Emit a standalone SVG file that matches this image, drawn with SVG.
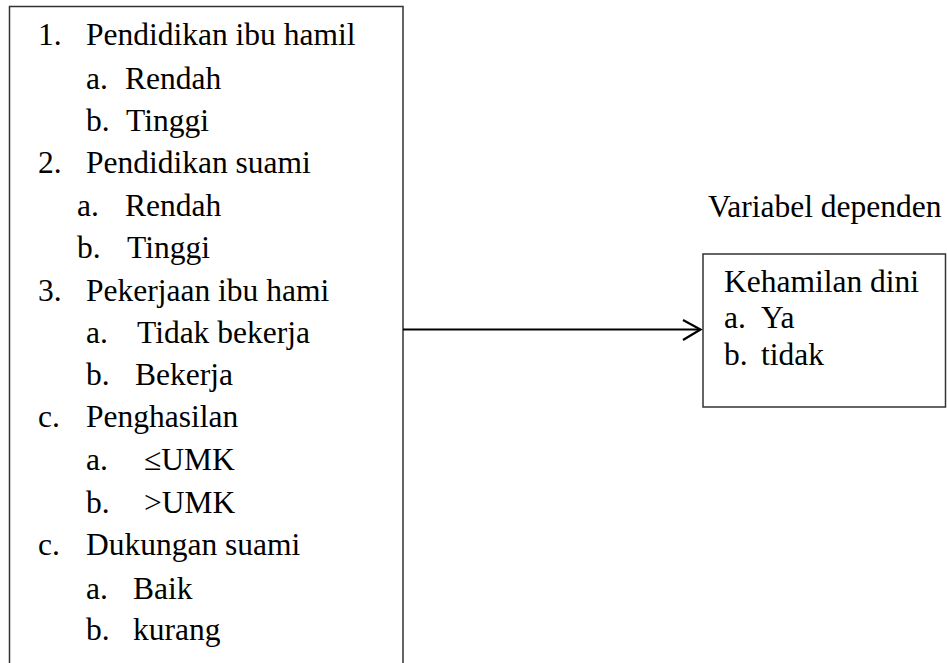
<svg xmlns="http://www.w3.org/2000/svg" width="947" height="663" viewBox="0 0 947 663">
<style>
  .box { fill: #ffffff; stroke: #333333; stroke-width: 1.5; }
  text { font-family: "Liberation Serif", "Times New Roman", serif; font-size: 31.5px; fill: #000000; }
  .conn { stroke: #000000; stroke-width: 2.2; fill: none; }
</style>
<rect width="947" height="663" fill="#ffffff"/>
<g id="independent">
  <rect class="box" x="9.5" y="6.5" width="393.5" height="670"/>
  <text x="38" y="45">1.</text><text x="86" y="45">Pendidikan ibu hamil</text>
  <text x="86" y="89">a.</text><text x="125" y="89">Rendah</text>
  <text x="86" y="131">b.</text><text x="126" y="131">Tinggi</text>
  <text x="38" y="173">2.</text><text x="86" y="173">Pendidikan suami</text>
  <text x="77" y="216">a.</text><text x="125" y="216">Rendah</text>
  <text x="77" y="258">b.</text><text x="127" y="258">Tinggi</text>
  <text x="38" y="301">3.</text><text x="86" y="301">Pekerjaan ibu hami</text>
  <text x="86" y="343">a.</text><text x="137" y="343">Tidak bekerja</text>
  <text x="86" y="385">b.</text><text x="135" y="385">Bekerja</text>
  <text x="38" y="427">c.</text><text x="86" y="427">Penghasilan</text>
  <text x="86" y="470">a.</text><text x="144" y="470">≤UMK</text>
  <text x="86" y="513">b.</text><text x="144" y="513">&gt;UMK</text>
  <text x="38" y="555">c.</text><text x="86" y="555">Dukungan suami</text>
  <text x="86" y="599">a.</text><text x="133" y="599">Baik</text>
  <text x="86" y="640">b.</text><text x="133" y="640">kurang</text>
</g>
<g id="dependent-label">
  <text x="708" y="217">Variabel dependen</text>
</g>
<g id="dependent">
  <rect class="box" x="703" y="254" width="242.5" height="153"/>
  <text x="724" y="292">Kehamilan dini</text>
  <text x="724" y="328">a.</text><text x="761" y="328">Ya</text>
  <text x="724" y="365">b.</text><text x="761" y="365">tidak</text>
</g>
<g id="connectors">
  <line class="conn" x1="403" y1="329.5" x2="700" y2="329.5"/>
  <polyline class="conn" points="683,320 700.5,329.5 683,340"/>
</g>
</svg>
